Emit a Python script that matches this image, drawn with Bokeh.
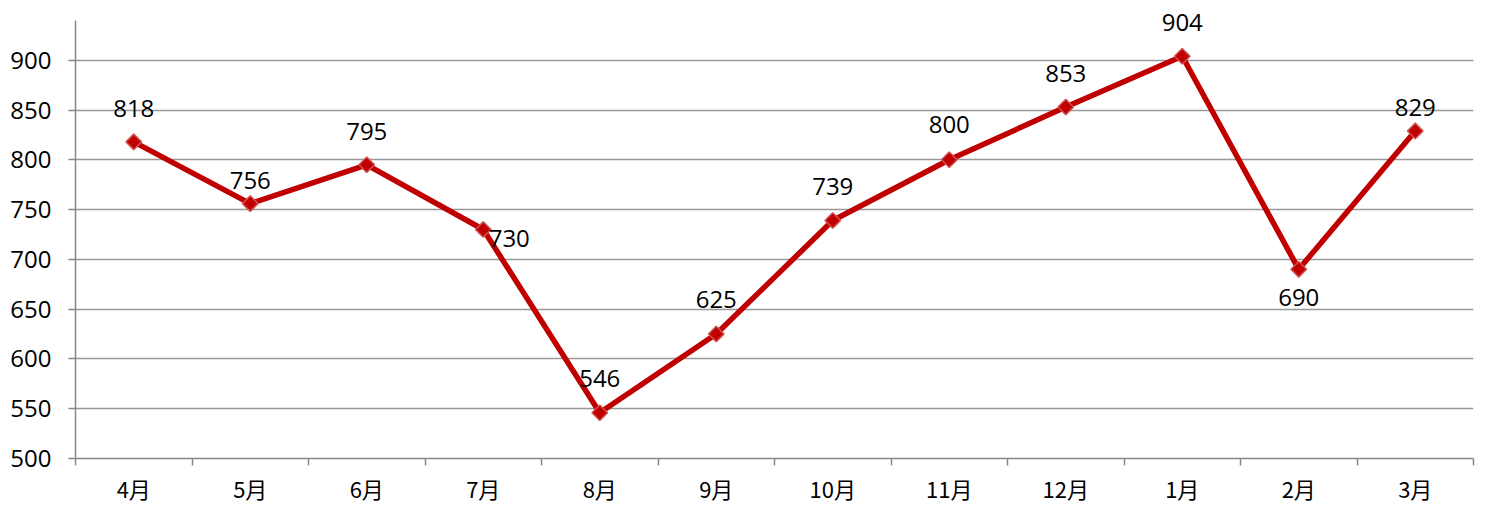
import math
from bokeh.plotting import figure
from bokeh.models import Range1d, FixedTicker, ColumnDataSource, LabelSet
from bokeh.core.properties import value
from bokeh.embed import file_html
from bokeh.resources import INLINE

months = ["4月", "5月", "6月", "7月", "8月", "9月", "10月", "11月", "12月", "1月", "2月", "3月"]
values = [818, 756, 795, 730, 546, 625, 739, 800, 853, 904, 690, 829]
y_ticks = [500, 550, 600, 650, 700, 750, 800, 850, 900]

# label placement (screen px, positive = up) per point
label_dx = [0, 0, 0, 26, 0, 0, 0, 0, 0, 0, 0, 0]
label_dy = [33, 23, 33, -9, 34, 35, 34, 35, 34, 34, -28, 23]

xs = [i + 0.5 for i in range(len(months))]

src = ColumnDataSource(dict(x=xs, y=values, lbl=[str(v) for v in values], dx=label_dx, dy=label_dy))

p = figure(width=1486, height=506, output_backend="svg", toolbar_location=None,
           x_range=Range1d(0, 12), y_range=Range1d(500, 960),
           min_border_left=75, min_border_right=13, min_border_top=0, min_border_bottom=47)
p.outline_line_color = None
p.background_fill_color = "white"

# x axis
p.xaxis.ticker = FixedTicker(ticks=xs, minor_ticks=list(range(13)))
p.xaxis.major_label_overrides = {x: m for x, m in zip(xs, months)}
p.xaxis.major_tick_line_color = None
p.xaxis.major_tick_out = 0
p.xaxis.major_tick_in = 0
p.xaxis.minor_tick_out = 7
p.xaxis.minor_tick_in = 0
p.xaxis.minor_tick_line_color = "#888888"
p.xaxis.minor_tick_line_width = 1.5
p.xaxis.axis_line_color = "#888888"
p.xaxis.axis_line_width = 1.5
p.xaxis.major_label_standoff = 6
p.xaxis.major_label_text_font = "Noto Sans CJK SC"
p.xaxis.major_label_text_font_size = "22px"
p.xaxis.major_label_text_color = "black"
p.xgrid.grid_line_color = None

# y axis
p.yaxis.ticker = FixedTicker(ticks=y_ticks, minor_ticks=[])
p.yaxis.bounds = (500, 940)
p.yaxis.major_tick_out = 7
p.yaxis.major_tick_in = 0
p.yaxis.major_tick_line_color = "#888888"
p.yaxis.major_tick_line_width = 1.5
p.yaxis.minor_tick_line_color = None
p.yaxis.axis_line_color = "#888888"
p.yaxis.axis_line_width = 1.5
p.yaxis.major_label_standoff = 17
p.yaxis.major_label_text_font = "Open Sans"
p.yaxis.major_label_text_font_size = "24px"
p.yaxis.major_label_text_color = "black"
p.ygrid.grid_line_color = "#999999"
p.ygrid.grid_line_width = 1.5

p.line("x", "y", source=src, line_color="#C00000", line_width=5.5)
p.scatter("x", "y", source=src, marker="square", size=11, angle=math.pi / 4,
          fill_color="#C00000", line_color="#D05050", line_width=1.5)

labels = LabelSet(x="x", y="y", text="lbl", source=src, x_offset="dx", y_offset="dy",
                  text_align="center", text_baseline="middle",
                  text_font=value("Open Sans"), text_font_size="24px", text_color="black")
p.add_layout(labels)

open("out.html", "w").write(file_html(p, INLINE))
